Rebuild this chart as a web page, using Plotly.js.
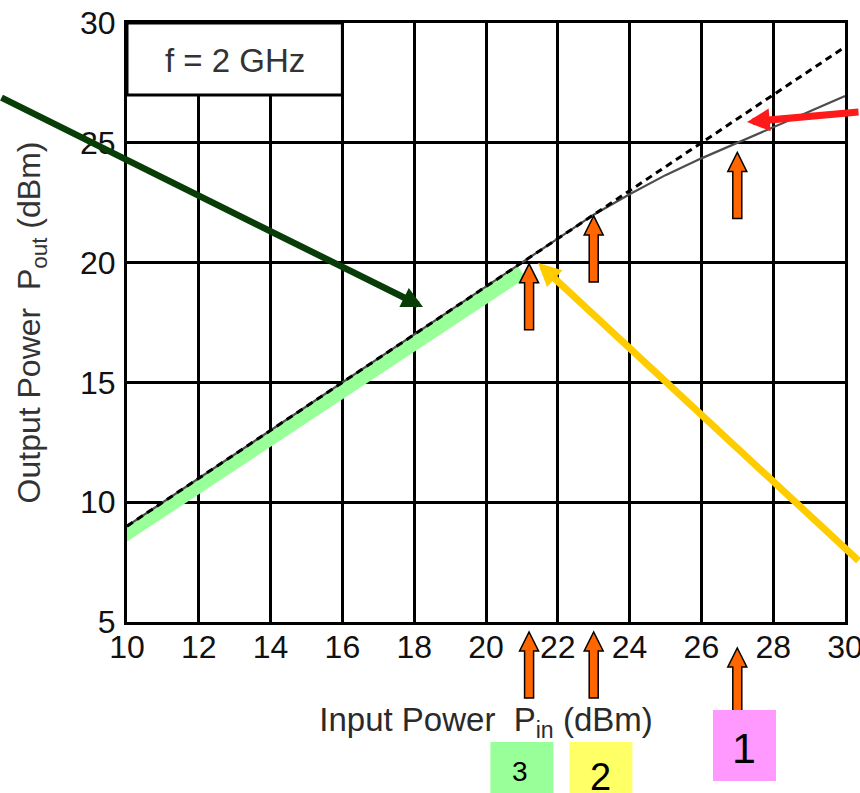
<!DOCTYPE html>
<html>
<head>
<meta charset="utf-8">
<script src="https://cdn.plot.ly/plotly-3.0.1.min.js"></script>
<style>
  html, body { margin: 0; padding: 0; background: #ffffff; }
  #chart { width: 860px; height: 793px; }
</style>
</head>
<body>
<div id="chart"></div>
<script>
// Power amplifier transfer curve at f = 2 GHz
const pinDbm = [10, 11, 12, 13, 14, 15, 16, 17, 18, 19, 20, 21, 22, 23, 24, 25, 26, 27, 28, 29, 30];
// ideal small-signal (linear) response
const linearPout = [9, 10, 11, 12, 13, 14, 15, 16, 17, 18, 19, 20, 21, 22, 23, 24, 25, 26, 27, 28, 29];
// measured response with gain compression
const measuredPout = [9, 10, 11, 12, 13, 14, 15, 16, 17, 18, 19, 20, 21, 22.0, 22.85, 23.65, 24.35, 25.0, 25.65, 26.3, 26.95];

// highlighted linear region
const linearRegionPin = [9.9, 21.0];
const linearRegionPout = [8.6, 19.6];

// operating points marked on the curve (region 3, 2, 1)
const markerPin = [21.2, 23.0, 27.0];
const markerTipPout = [19.95, 21.95, 24.6];
const markerLabels = ['3', '2', '1'];
const markerColors = ['#99ff99', '#ffff66', '#ff99ff'];

const xTicks = [10, 12, 14, 16, 18, 20, 22, 24, 26, 28, 30];
const yTicks = [5, 10, 15, 20, 25, 30];

const W = 860, H = 793;
const M = { l: 127, r: 15, t: 23, b: 171 };
const plotW = W - M.l - M.r, plotH = H - M.t - M.b;
const xPerPx = (xTicks[xTicks.length - 1] - xTicks[0]) / plotW;
const yPerPx = (yTicks[yTicks.length - 1] - yTicks[0]) / plotH;
const paperPerPx = 1 / plotH;

const FONT = 'Liberation Sans, Arial, Helvetica, sans-serif';

// block arrow (pointing up) with its tip at (x, y); dy converts px to y units
function blockArrow(x, y, dy, yref) {
  const hw = 9.5 * xPerPx, sw = 4.5 * xPerPx;
  const hh = 19 * dy, len = 66 * dy;
  const p = [
    [x, y], [x + hw, y - hh], [x + sw, y - hh], [x + sw, y - len],
    [x - sw, y - len], [x - sw, y - hh], [x - hw, y - hh]
  ];
  return {
    type: 'path', xref: 'x', yref: yref, layer: 'above',
    path: 'M' + p.map(q => q[0] + ',' + q[1]).join('L') + 'Z',
    fillcolor: '#ff6600', line: { color: '#000000', width: 1.5 }
  };
}

const traces = [
  {
    x: linearRegionPin, y: linearRegionPout, mode: 'lines',
    line: { color: '#99ff99', width: 14 }, hoverinfo: 'skip', showlegend: false
  },
  {
    x: pinDbm, y: measuredPout, mode: 'lines',
    line: { color: '#4d4d4d', width: 2.2 }, showlegend: false
  },
  {
    x: pinDbm, y: linearPout, mode: 'lines',
    line: { color: '#000000', width: 3, dash: '7px,5px' }, showlegend: false
  }
];

const shapes = [
  // frequency label box
  {
    type: 'rect', xref: 'x', yref: 'y', x0: 10, x1: 16, y0: 27, y1: 30,
    fillcolor: '#ffffff', line: { color: '#000000', width: 3 }, layer: 'above'
  }
];

// arrows on the curve
markerPin.forEach((p, i) => shapes.push(blockArrow(p, markerTipPout[i], yPerPx, 'y')));
// arrows under the axis
const underTipPx = [10, 10, 26];
markerPin.forEach((p, i) => shapes.push(blockArrow(p, -underTipPx[i] * paperPerPx, paperPerPx, 'paper')));

// coloured number boxes below the axis
const boxTopPx = [120, 120, 88];
const boxBotPx = [180, 180, 159];
const boxCenter = [21.0, 23.2, 27.2];
const boxHalfW = 31.5 * xPerPx;
markerLabels.forEach((lab, i) => {
  shapes.push({
    type: 'rect', xref: 'x', yref: 'paper', layer: 'above',
    x0: boxCenter[i] - boxHalfW, x1: boxCenter[i] + boxHalfW,
    y0: -boxTopPx[i] * paperPerPx, y1: -boxBotPx[i] * paperPerPx,
    fillcolor: markerColors[i], line: { width: 0 }
  });
});

const labelFont = [28, 38, 43];
const labelMidPx = [150, 155, 126];
const labelX = [20.95, 23.2, 27.2];

const annotations = [
  {
    x: 13, y: 28.45, xref: 'x', yref: 'y', text: 'f = 2 GHz', showarrow: false,
    font: { family: FONT, size: 33, color: '#333333' }
  },
  // dark green arrow into the linear region
  {
    x: 18.245, y: 18.15, xref: 'x', yref: 'y', ax: -432, ay: -210, text: '',
    showarrow: true, arrowhead: 2, arrowsize: 0.65, arrowwidth: 6.5, arrowcolor: '#083d08', standoff: 0
  },
  // yellow arrow to the onset of compression
  {
    x: 21.45, y: 19.98, xref: 'x', yref: 'y', ax: 332, ay: 299, text: '',
    showarrow: true, arrowhead: 2, arrowsize: 0.65, arrowwidth: 7, arrowcolor: '#ffcc00', standoff: 0
  },
  // red arrow to the gap between ideal and compressed curves
  {
    x: 27.27, y: 25.87, xref: 'x', yref: 'y', ax: 123, ay: -10, text: '',
    showarrow: true, arrowhead: 2, arrowsize: 0.65, arrowwidth: 7, arrowcolor: '#ff1a1a', standoff: 0
  }
];
markerLabels.forEach((lab, i) => {
  annotations.push({
    x: labelX[i], y: -labelMidPx[i] * paperPerPx, xref: 'x', yref: 'paper',
    text: lab, showarrow: false, yanchor: 'middle',
    font: { family: FONT, size: labelFont[i], color: '#000000' }
  });
});

const axisCommon = {
  showgrid: true, gridcolor: '#000000', gridwidth: 3,
  showline: true, linecolor: '#000000', linewidth: 3, mirror: true,
  zeroline: false, ticks: '', fixedrange: true,
  ticklabeloverflow: 'allow',
  tickfont: { family: FONT, size: 32, color: '#111111' }
};

const layout = {
  width: W, height: H,
  margin: M,
  paper_bgcolor: '#ffffff', plot_bgcolor: '#ffffff',
  showlegend: false,
  xaxis: Object.assign({}, axisCommon, {
    range: [xTicks[0], xTicks[xTicks.length - 1]],
    tickvals: xTicks, ticktext: xTicks.map(String),
    ticklabelstandoff: -5,
    title: {
      text: 'Input Power  P<sub>in</sub> (dBm)', standoff: 44,
      font: { family: FONT, size: 33, color: '#2a2a2a' }
    }
  }),
  yaxis: Object.assign({}, axisCommon, {
    range: [yTicks[0], yTicks[yTicks.length - 1]],
    tickvals: yTicks, ticktext: yTicks.map(String),
    ticklabelstandoff: 2,
    title: {
      text: 'Output Power  P<sub>out</sub> (dBm)', standoff: 30,
      font: { family: FONT, size: 32, color: '#333333' }
    }
  }),
  shapes: shapes,
  annotations: annotations
};

Plotly.newPlot('chart', traces, layout, { staticPlot: true, displayModeBar: false });
</script>
</body>
</html>
